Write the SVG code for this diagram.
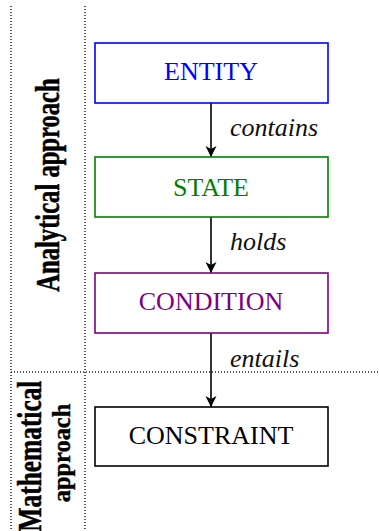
<svg xmlns="http://www.w3.org/2000/svg" width="379" height="531" viewBox="0 0 379 531">
<style>
.box{fill:#fff;stroke-width:1.6}
.lbl{font-size:26px;text-anchor:middle}
.rel{font-size:26px;font-style:italic;fill:#111}
.side{font-weight:bold;fill:#000;stroke:#000;stroke-width:0.4;text-anchor:middle}
.dot{stroke:#222;stroke-width:1.5;stroke-dasharray:1 2;fill:none}
.conn{stroke:#000;stroke-width:1.6;fill:none;marker-end:url(#arr)}
</style>
<defs>
<marker id="arr" viewBox="-12 -7 14 14" refX="0" refY="0" markerWidth="14" markerHeight="14" markerUnits="userSpaceOnUse" orient="auto">
<path d="M-11,-5.5 L0,0 L-11,5.5 L-8,0 Z" fill="#000"/>
</marker>
</defs>
<rect width="379" height="531" fill="#fff"/>
<g id="frame">
<line class="dot" x1="11" y1="6" x2="11" y2="531"/>
<line class="dot" x1="85" y1="6" x2="85" y2="531"/>
<line class="dot" x1="11" y1="372" x2="379" y2="372"/>
</g>
<g id="side-labels" font-family="Liberation Serif, Times New Roman, serif">
<text class="side" font-size="24.6" transform="translate(59,185) rotate(-90) scale(1,1.36)">Analytical approach</text>
<text class="side" font-size="25.4" transform="translate(41,456) rotate(-90) scale(1,1.3)">Mathematical</text>
<text class="side" font-size="24.4" transform="translate(70,453) rotate(-90)">approach</text>
</g>
<g id="connectors" font-family="Liberation Serif, Times New Roman, serif">
<line class="conn" x1="211" y1="103" x2="211" y2="157"/>
<line class="conn" x1="211" y1="217" x2="211" y2="273"/>
<line class="conn" x1="211" y1="333" x2="211" y2="407"/>
<text class="rel" x="230" y="136">contains</text>
<text class="rel" x="230" y="250">holds</text>
<text class="rel" x="230" y="367">entails</text>
</g>
<g id="entity" font-family="Liberation Serif, Times New Roman, serif">
<rect class="box" x="95" y="43" width="233" height="60" stroke="#0000ff"/>
<text class="lbl" x="211" y="80" fill="#0000ff">ENTITY</text>
</g>
<g id="state" font-family="Liberation Serif, Times New Roman, serif">
<rect class="box" x="95" y="157" width="233" height="60" stroke="#008000"/>
<text class="lbl" x="211" y="195.5" fill="#008000">STATE</text>
</g>
<g id="condition" font-family="Liberation Serif, Times New Roman, serif">
<rect class="box" x="95" y="273" width="233" height="60" stroke="#800080"/>
<text class="lbl" x="211" y="309.5" fill="#800080">CONDITION</text>
</g>
<g id="constraint" font-family="Liberation Serif, Times New Roman, serif">
<rect class="box" x="95" y="407" width="233" height="59" stroke="#000"/>
<text class="lbl" x="211" y="443.5" fill="#000">CONSTRAINT</text>
</g>
</svg>
